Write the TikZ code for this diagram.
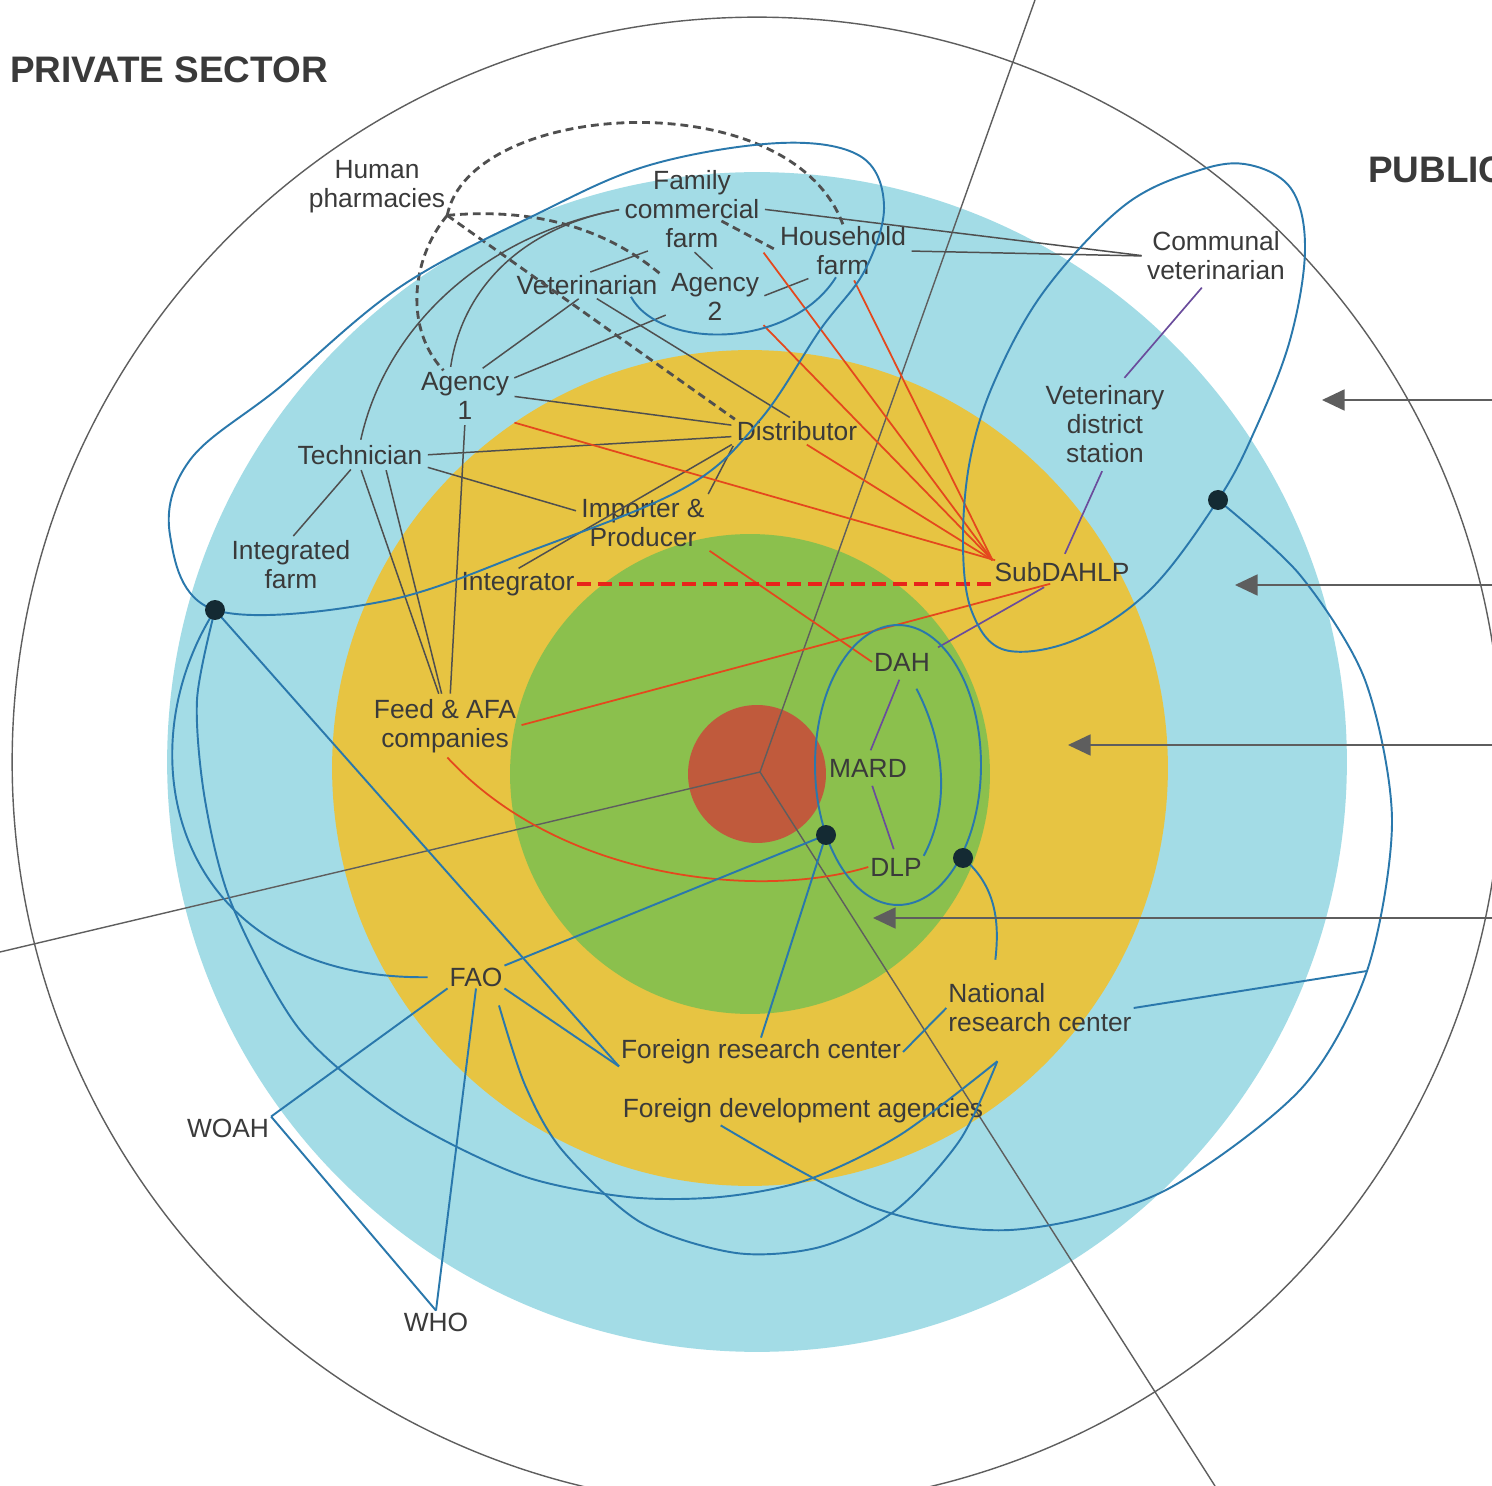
\documentclass[tikz,border=0pt]{standalone}
\usepackage{fontspec}
\setmainfont{Liberation Sans}
\usetikzlibrary{arrows.meta,calc}
\definecolor{skyring}{HTML}{A3DCE6}
\definecolor{sunring}{HTML}{E7C442}
\definecolor{leafring}{HTML}{8BC04D}
\definecolor{corering}{HTML}{C05A3C}
\definecolor{rulegray}{HTML}{5E5E5E}
\definecolor{inkgray}{HTML}{3A3A3A}
\definecolor{linkgray}{HTML}{4F4F4F}
\definecolor{linkblue}{HTML}{2A78AC}
\definecolor{linkred}{HTML}{E4481D}
\definecolor{dashred}{HTML}{E8241A}
\definecolor{linkpurple}{HTML}{6A4C9C}
\definecolor{dotnavy}{HTML}{142A33}
\begin{document}
\begin{tikzpicture}[x=0.02cm, y=-0.02cm,
    actor/.style={font=\fontsize{15}{16.5}\selectfont, text=inkgray, align=center, inner sep=1pt},
    sector/.style={font=\bfseries\fontsize{21}{24}\selectfont, text=inkgray, anchor=west, inner sep=1pt},
    grayrule/.style={draw=rulegray, line width=0.8pt},
    privlink/.style={draw=linkgray, line width=0.85pt, shorten <=2pt, shorten >=2pt},
    pharmlink/.style={draw=linkgray, line width=1.6pt, dash pattern=on 4.5pt off 2.8pt},
    redlink/.style={draw=linkred, line width=1pt, shorten <=2pt},
    reddash/.style={draw=dashred, line width=2.8pt, dash pattern=on 8pt off 4pt},
    purplelink/.style={draw=linkpurple, line width=0.95pt, shorten <=4pt, shorten >=4pt},
    bluelink/.style={draw=linkblue, line width=1.1pt},
    ringarrow/.style={draw=rulegray, line width=0.9pt, -{Triangle[length=0.45cm,width=0.42cm]}}]
\useasboundingbox (0,0) rectangle (1492,1486);
\clip (0,0) rectangle (1492,1486);
\fill[white] (0,0) rectangle (1492,1486);

% rings
\fill[skyring] (757,762) circle[radius=11.8cm];
\fill[sunring] (750,768) circle[radius=8.36cm];
\fill[leafring] (750,774) circle[radius=4.8cm];
\fill[corering] (757,774) circle[radius=1.38cm];
\draw[grayrule] (757,762) circle[radius=14.9cm];

% sectors
\coordinate (hub) at (760,772);
\coordinate (cutN) at (1035,0);
\coordinate (cutW) at (0,952);
\coordinate (cutS) at (1215,1486);
\foreach \c in {cutN,cutW,cutS}
\draw[grayrule] (hub) -- (\c);

\node[sector] (privhead) at (8,70) {PRIVATE SECTOR};
\node[sector] (pubhead) at (1366,170) {PUBLIC};

% actors
\node[actor] (hp) at (377,187) {Human\\pharmacies};
\node[actor] (fam) at (692,209) {Family\\commercial\\farm};
\node[actor] (hh) at (843,251) {Household\\farm};
\node[actor] (comvet) at (1216,256) {Communal\\veterinarian};
\node[actor] (vet) at (587,285) {Veterinarian};
\node[actor] (agency2) at (715,297) {Agency\\2};
\node[actor] (agency1) at (465,396) {Agency\\1};
\node[actor] (tech) at (360,455) {Technician};
\node[actor] (dist) at (797,431) {Distributor};
\node[actor] (vds) at (1105,424) {Veterinary\\district\\station};
\node[actor] (intfarm) at (291,565) {Integrated\\farm};
\node[actor] (imp) at (643,523) {Importer \&\\Producer};
\node[actor] (integ) at (518,584) {Integrator};
\node[actor] (sub) at (1062,572) {SubDAHLP};
\node[actor] (dah) at (902,662) {DAH};
\node[actor] (feed) at (445,726) {Feed \& AFA\\companies};
\node[actor] (mard) at (868,768) {MARD};
\node[actor] (dlp) at (896,867) {DLP};
\node[actor] (fao) at (476,977) {FAO};
\node[actor, align=left] (nrc) at (1040,1008) {National\\research center};
\node[actor] (frc) at (761,1052) {Foreign research center};
\node[actor] (fda) at (803,1111) {Foreign development agencies};
\node[actor] (woah) at (228,1128) {WOAH};
\node[actor] (who) at (436,1322) {WHO};

\coordinate (d1) at (215,610);
\coordinate (d2) at (1218,500);
\coordinate (d3) at (826,835);
\coordinate (d4) at (963,858);
\coordinate (rim) at (1367,971);
\coordinate (nrcfoot) at ($(nrc.south west)+(51,27)$);
\coordinate (nrctop) at ($(nrc.north west)+(49,-22)$);
\coordinate (faofoot) at ($(fao.south)+(23,17)$);
\coordinate (fdafoot) at ($(fda.south west)+(100,0)$);

% private links
\foreach \from/\to in {fam.east/comvet.west, hh.east/comvet.west, fam.-135/vet.north,
    fam.south/agency2.north, hh.-140/agency2.east, vet.-115/agency1.60,
    agency2.-160/agency1.20, vet.-60/dist.110, agency1.east/dist.175, tech.east/dist.185,
    tech.-10/imp.170, dist.south west/imp.north east, dist.south west/integ.100,
    tech.-120/intfarm.north, tech.south/feed.100, tech.-25/feed.95, agency1.south/feed.80}
\draw[privlink] (\from) -- (\to);
\draw[privlink] (fam.west) .. controls (520,228) and (462,290) .. (agency1.120);
\draw[privlink] (fam.west) .. controls (480,236) and (385,330) .. (tech.north);

% pharmacies
\draw[pharmlink] (hp.south east) .. controls (470,100) and (790,80) .. (hh.north);
\draw[pharmlink] (hp.south east) .. controls (410,260) and (405,330) .. (agency1.130);
\draw[pharmlink] (hp.south east) .. controls (560,205) and (625,245) .. (vet.north east);
\draw[pharmlink] (hp.south east) -- (dist.north west);
\draw[pharmlink] ($(fam.east)+(-40,12)$) -- (hh.west);

% SubDAHLP links
\foreach \from/\to in {agency1.south east/sub.170, fam.south east/sub.north west,
    agency2.south east/sub.north west, hh.-70/sub.north west, dist.-60/sub.north west,
    imp.south east/dah.west, feed.east/sub.-135}
\draw[redlink] (\from) -- (\to);
\draw[redlink] (feed.south) .. controls (560,880) and (760,900) .. (dlp.west);
\draw[reddash] (integ.east) -- (integ.east -| sub.west);

% public chain
\foreach \from/\to in {comvet.-110/vds.70, vds.south/sub.north, sub.-135/dah.north east,
    dah.south/mard.north, mard.-80/dlp.north}
\draw[purplelink] (\from) -- (\to);

% cooperation
\draw[bluelink] plot[smooth cycle, tension=0.6] coordinates {(d1) (380,602) (533,550)
    (686,487) (760,420) (820,330) (865,270) (884,205) (860,156) (780,143) (650,165)
    (537,214) (400,287) (280,387) (190,460) (170,535)};
\draw[bluelink] plot[smooth cycle, tension=0.6] coordinates {(d2) (1150,590) (1075,640)
    (1005,650) (972,612) (963,545) (970,460) (995,380) (1045,290) (1125,205) (1200,170)
    (1250,165) (1292,190) (1305,250) (1290,340) (1255,430)};
\draw[bluelink] plot[smooth] coordinates {(d2) (1300,575) (1365,680) (1392,820) (rim)
    (1300,1090) (1160,1193) (1010,1230) (875,1208) (fdafoot)};
\draw[bluelink] plot[smooth] coordinates {(d1) (197,700) (205,800) (232,905) (300,1030)
    (400,1115) (520,1175) (628,1197) (720,1197) (807,1180) (900,1135) (nrcfoot)};
\draw[bluelink] plot[smooth] coordinates {(faofoot) (525,1085) (562,1150) (640,1222)
    (736,1253) (820,1247) (896,1210) (960,1140) (nrcfoot)};
\draw[bluelink, shorten >=0.4cm] (d1) .. controls (120,760) and (180,980) .. (fao.west);
\draw[bluelink] (vet.-15) .. controls (660,350) and (790,350) .. (hh.-105);
\draw[bluelink] (898,765) ellipse[x radius=1.66cm, y radius=2.8cm];
\draw[bluelink, shorten <=0.35cm] (dah.-60) .. controls (948,750) and (948,810) .. (dlp.north east);
\draw[bluelink] (d4) .. controls (995,885) and (1000,920) .. (nrctop);
\foreach \from/\to in {d1/frc.south west, fao.south east/frc.south west, fao.north east/d3,
    d3/frc.north, fao.south west/woah.north east, woah.north east/who.north,
    fao.south/who.north, nrc.west/frc.east, nrc.east/rim}
\draw[bluelink] (\from) -- (\to);

\foreach \d in {d1,d2,d3,d4}
\fill[dotnavy] (\d) circle[radius=0.2cm];

% levels
\foreach \y/\x [count=\i] in {400/1322, 585/1235, 745/1068, 918/873} {
  \coordinate (tail\i) at (1500,\y);
  \coordinate (tip\i) at (\x,\y);
  \draw[ringarrow] (tail\i) -- (tip\i);
}
\end{tikzpicture}
\end{document}
